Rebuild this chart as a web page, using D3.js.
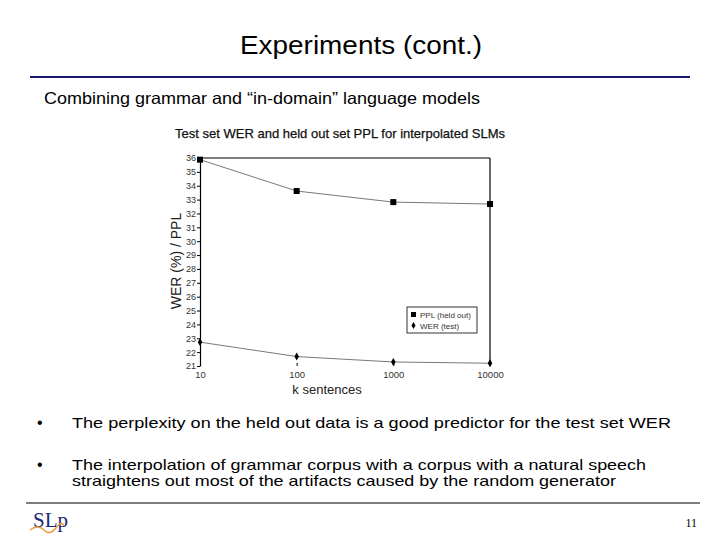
<!DOCTYPE html>
<html><head><meta charset="utf-8">
<script src="https://cdn.jsdelivr.net/npm/d3@7/dist/d3.min.js"></script>
<style>body{margin:0;background:#fff}svg{display:block}</style>
</head><body>
<script>
const xValues = [10, 100, 1000, 10000];
const pplValues = [35.88, 33.62, 32.82, 32.68];
const werValues = [22.72, 21.68, 21.29, 21.2];
const yTicks = d3.range(21, 37);
const xTicks = [10, 100, 1000, 10000];
const seriesNames = ["PPL (held out)", "WER (test)"];

(function () {
const W = 720, H = 540;
const FF = "Liberation Sans, Arial, sans-serif";
const svg = d3.select("body").append("svg").attr("width", W).attr("height", H);

function txt(x, y, s, size, len, opts) {
  const t = svg.append("text").attr("x", x).attr("y", y).attr("font-family", FF)
    .attr("font-size", size).attr("fill", "#000").text(s);
  if (len) t.attr("textLength", len).attr("lengthAdjust", "spacingAndGlyphs");
  if (opts && opts.anchor) t.attr("text-anchor", opts.anchor);
  return t;
}

// slide chrome
txt(240, 54, "Experiments (cont.)", 25, 242);
svg.append("line").attr("x1", 30).attr("x2", 690).attr("y1", 77).attr("y2", 77)
  .attr("stroke", "#1a1a6e").attr("stroke-width", 2);
txt(44, 104, "Combining grammar and “in-domain” language models", 16.5, 436);

const bullets = [
  {y: 428, lines: [["The perplexity on the held out  data is a good predictor for the test set WER", 599]]},
  {y: 470, lines: [["The interpolation of grammar corpus with a corpus with a natural speech", 574], ["straightens out most of the artifacts caused by the random generator", 544]]}
];
bullets.forEach(b => {
  txt(37, b.y, "•", 16);
  b.lines.forEach((l, i) => txt(72, b.y + i * 16, l[0], 15, l[1]));
});
svg.append("line").attr("x1", 26).attr("x2", 700).attr("y1", 503).attr("y2", 503)
  .attr("stroke", "#000").attr("stroke-width", 1.2);
svg.append("text").attr("x", 697).attr("y", 527).attr("text-anchor", "end")
  .attr("font-family", "Liberation Serif, serif").attr("font-size", 12).text("11");
// logo
svg.append("text").attr("x", 33).attr("y", 527).attr("font-family", "Liberation Serif, serif")
  .attr("font-size", 21).attr("fill", "#1f2a7a").text("SLp");
svg.append("path").attr("d", "M30,530 Q38,524 44,530 T56,528 T64,526").attr("fill", "none")
  .attr("stroke", "#e8a040").attr("stroke-width", 1.5);

// chart
const pLeft = 200, pRight = 490, pTop = 158, pBottom = 366;
const x = d3.scaleLog().domain([10, 10000]).range([pLeft, pRight]);
const y = d3.scaleLinear().domain([21, 36]).range([pBottom, pTop]);

txt(175, 138, "Test set WER and held out set PPL for interpolated SLMs", 13, 330)
  .attr("fill", "#111").attr("stroke", "#111").attr("stroke-width", 0.25);

svg.append("line").attr("x1", pLeft).attr("x2", pRight).attr("y1", pTop).attr("y2", pTop).attr("stroke", "#000").attr("stroke-width", 1.2);
svg.append("line").attr("x1", pRight).attr("x2", pRight).attr("y1", pTop).attr("y2", pBottom).attr("stroke", "#000").attr("stroke-width", 1.2);

const yAxis = svg.append("g").attr("transform", `translate(${pLeft},0)`)
  .call(d3.axisLeft(y).tickValues(yTicks).tickSize(3).tickSizeOuter(0).tickFormat(d3.format("d")));
yAxis.select(".domain").attr("stroke-width", 1.2);
yAxis.selectAll("text").attr("font-family", FF).attr("font-size", 9).attr("fill", "#333").attr("dx", "2");

const xAxis = svg.append("g").attr("transform", `translate(0,${pBottom})`)
  .call(d3.axisBottom(x).tickValues(xTicks).tickSize(3).tickFormat(d3.format("d")));
xAxis.select(".domain").remove();
xAxis.selectAll("line").attr("transform", "translate(0,-3)");
xAxis.selectAll("text").attr("font-family", FF).attr("font-size", 9.5).attr("fill", "#333").attr("dy", "0.6em");

txt(327, 394, "k sentences", 13, null, {anchor: "middle"}).attr("fill", "#222");
svg.append("text").attr("transform", `translate(181,261) rotate(-90)`).attr("text-anchor", "middle")
  .attr("font-family", FF).attr("font-size", 14).attr("fill", "#222")
  .text("WER (%) / PPL");

const line = d3.line().x((d, i) => x(xValues[i])).y(d => y(d));
[pplValues, werValues].forEach(vals => {
  svg.append("path").attr("d", line(vals)).attr("fill", "none").attr("stroke", "#555").attr("stroke-width", 0.8);
});
svg.selectAll(".ppl").data(pplValues).enter().append("rect")
  .attr("x", (d, i) => x(xValues[i]) - 3).attr("y", d => y(d) - 3).attr("width", 6).attr("height", 6).attr("fill", "#000");
svg.selectAll(".wer").data(werValues).enter().append("path")
  .attr("d", d3.symbol().type(d3.symbolDiamond).size(18))
  .attr("transform", (d, i) => `translate(${x(xValues[i])},${y(d)})`).attr("fill", "#000");

const lg = svg.append("g");
lg.append("rect").attr("x", 407).attr("y", 307).attr("width", 70).attr("height", 26).attr("fill", "#fff").attr("stroke", "#000").attr("stroke-width", 0.8);
lg.append("rect").attr("x", 411).attr("y", 312).attr("width", 5).attr("height", 5).attr("fill", "#000");
lg.append("path").attr("d", d3.symbol().type(d3.symbolDiamond).size(14)).attr("transform", "translate(413.5,325.5)").attr("fill", "#000");
seriesNames.forEach((n, i) => lg.append("text").attr("x", 420).attr("y", 318 + i * 10.5)
  .attr("font-family", FF).attr("font-size", 8).attr("fill", "#333").text(n));
})();
</script>
</body></html>
